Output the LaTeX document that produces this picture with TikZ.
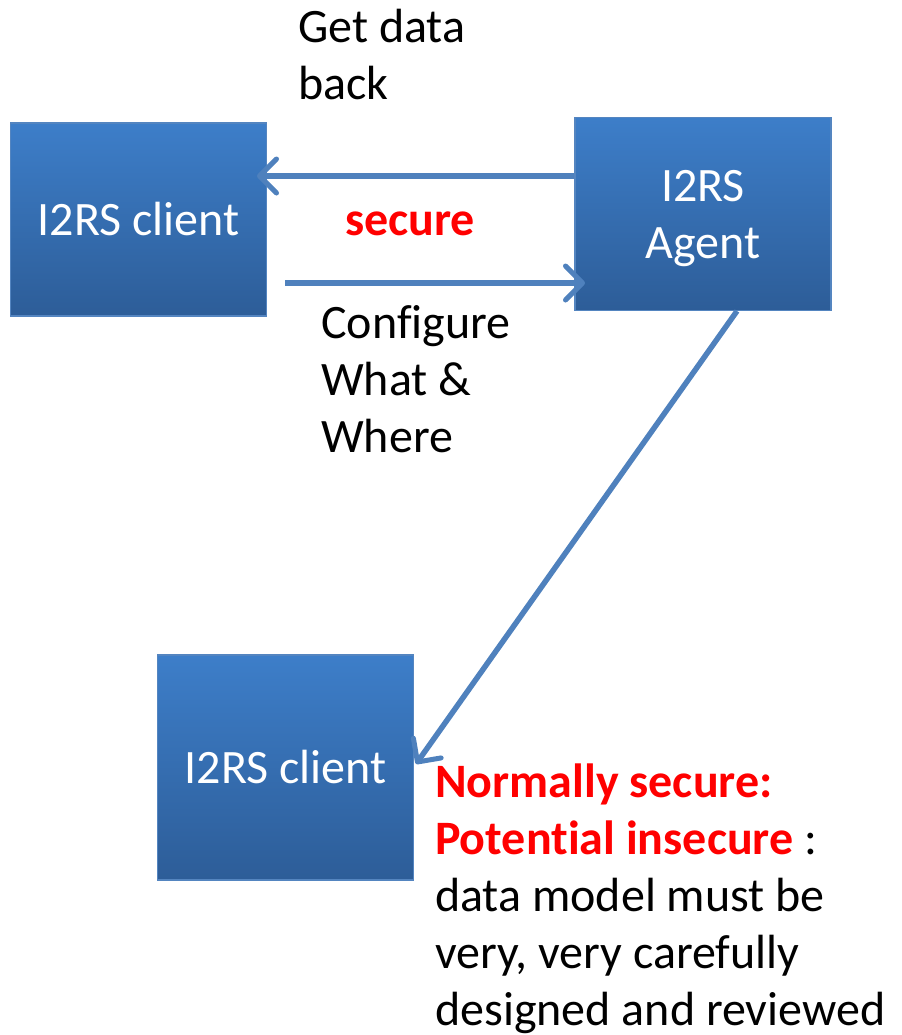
\documentclass[tikz,border=0pt]{standalone}
\usepackage{fontspec}
\setmainfont[Ligatures=NoCommon]{Carlito}
\usetikzlibrary{arrows.meta}
\definecolor{boxtop}{RGB}{61,126,201}
\definecolor{boxbot}{RGB}{45,93,152}
\definecolor{boxline}{RGB}{84,133,192}
\definecolor{arrowblue}{RGB}{79,129,189}
\definecolor{alertred}{RGB}{255,0,0}
\begin{document}
\begin{tikzpicture}[x=1bp,y=-1bp,
  box/.style={rectangle, draw=boxline, line width=1.5bp, top color=boxtop, bottom color=boxbot,
    text=white, align=center, inner sep=0, font=\fontsize{48bp}{57bp}\selectfont},
  lbl/.style={anchor=north west, inner sep=0, align=left, font=\fontsize{48bp}{57bp}\selectfont},
  conn/.style={draw=arrowblue, line width=5.5bp, -{Straight Barb[length=17bp,width=34bp,line width=5bp,round]}}
]
\useasboundingbox (0,0) rectangle (902,1035);
\node[box, minimum width=256bp, minimum height=193bp] (c1) at (138.5,219.5) {I2RS client};
\node[box, minimum width=256bp, minimum height=193bp] (ag) at (703,214) {\rule{0pt}{41bp}I2RS\\Agent};
\node[box, minimum width=256bp, minimum height=225bp] (c3) at (285.5,767.5) {I2RS client};

\coordinate (t1) at (257,176);
\coordinate (s2) at (285,283);
\coordinate (t2) at (585,283);
\coordinate (s3) at (737,311);
\coordinate (t3) at (416,764);
\draw[conn] (ag.west |- t1) -- (t1);
\draw[conn] (s2) -- (t2);
\draw[conn] (s3) -- (t3);

\node[lbl] (gd) at (298,2.1) {\strut Get data\\back};
\node[lbl, text=alertred, font=\fontsize{48bp}{57bp}\selectfont\bfseries] (sec) at (345,195.1) {\strut secure};
\node[lbl] (cfg) at (321,298.1) {\strut Configure\\What \&\\Where};
\node[lbl] (note) at (435,757.1) {\strut{\color{alertred}\bfseries Normally secure:}\\{\color{alertred}\bfseries Potential insecure} :\\data model must be\\very, very carefully\\designed and reviewed};
\end{tikzpicture}
\end{document}
